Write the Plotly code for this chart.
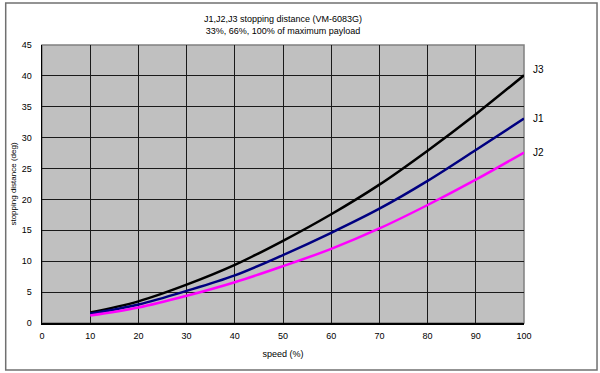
import plotly.graph_objects as go

speed = [10, 20, 30, 40, 50, 60, 70, 80, 90, 100]
j3 = [1.7, 3.5, 6.2, 9.4, 13.3, 17.6, 22.4, 27.9, 33.8, 40.1]
j1 = [1.5, 3.0, 5.2, 7.7, 11.0, 14.6, 18.5, 23.0, 28.0, 33.1]
j2 = [1.2, 2.5, 4.4, 6.6, 9.2, 12.0, 15.3, 19.1, 23.2, 27.6]
x_ticks = list(range(0, 101, 10))
y_ticks = list(range(0, 46, 5))

FONT = "Liberation Sans, Arial, sans-serif"

fig = go.Figure()
for name, ys, col in [("J3", j3, "#000000"), ("J1", j1, "#000080"), ("J2", j2, "#FF00FF")]:
    fig.add_trace(go.Scatter(x=speed, y=ys, mode="lines", name=name,
                             line=dict(color=col, width=2.5, shape="spline", smoothing=1.0),
                             showlegend=False, hoverinfo="skip"))

for name, ys, dy in [("J3", j3, 6), ("J1", j1, 0), ("J2", j2, 0)]:
    fig.add_annotation(x=speed[-1], y=ys[-1], text=name, showarrow=False,
                       xanchor="left", yanchor="middle", xshift=7, yshift=dy,
                       font=dict(family=FONT, size=10, color="#000"))

fig.add_annotation(x=0.5, y=1, xref="paper", yref="paper", yanchor="bottom", yshift=7,
                   text="J1,J2,J3 stopping distance (VM-6083G)<br>33%, 66%, 100% of maximum payload",
                   showarrow=False, font=dict(family=FONT, size=9, color="#000"))

# plot area frame (gray top/right)
fig.add_shape(type="rect", xref="paper", yref="paper", x0=0, x1=1, y0=0, y1=1,
              line=dict(color="#808080", width=1.5), layer="below")
# outer chart border
fig.add_shape(type="rect", xref="paper", yref="paper", x0=-0.0753, x1=1.1515, y0=-0.169, y1=1.151,
              line=dict(color="#707070", width=1.5))

fig.update_layout(
    width=600, height=373,
    margin=dict(l=39, r=76, t=45, b=50),
    paper_bgcolor="white", plot_bgcolor="#C0C0C0",
    font=dict(family=FONT, size=9, color="#000"),
)
fig.update_xaxes(range=[0, 100], tickvals=x_ticks, showgrid=True, gridcolor="#1a1a1a", gridwidth=1,
                 showline=True, linecolor="#000", linewidth=1.5, zeroline=False, ticks="",
                 ticklabelstandoff=4,
                 title=dict(text="speed (%)", font=dict(size=9), standoff=10),
                 tickfont=dict(size=9))
fig.update_yaxes(range=[0, 45], tickvals=y_ticks, showgrid=True, gridcolor="#1a1a1a", gridwidth=1,
                 showline=True, linecolor="#000", linewidth=1.5, zeroline=False, ticks="",
                 ticklabelstandoff=7,
                 title=dict(text="stopping distance (deg)", font=dict(size=8), standoff=4),
                 tickfont=dict(size=9))

fig.write_html("out.html", config={"displayModeBar": False, "staticPlot": True},
               post_script="document.body.style.margin='0';document.body.style.overflow='hidden';")
